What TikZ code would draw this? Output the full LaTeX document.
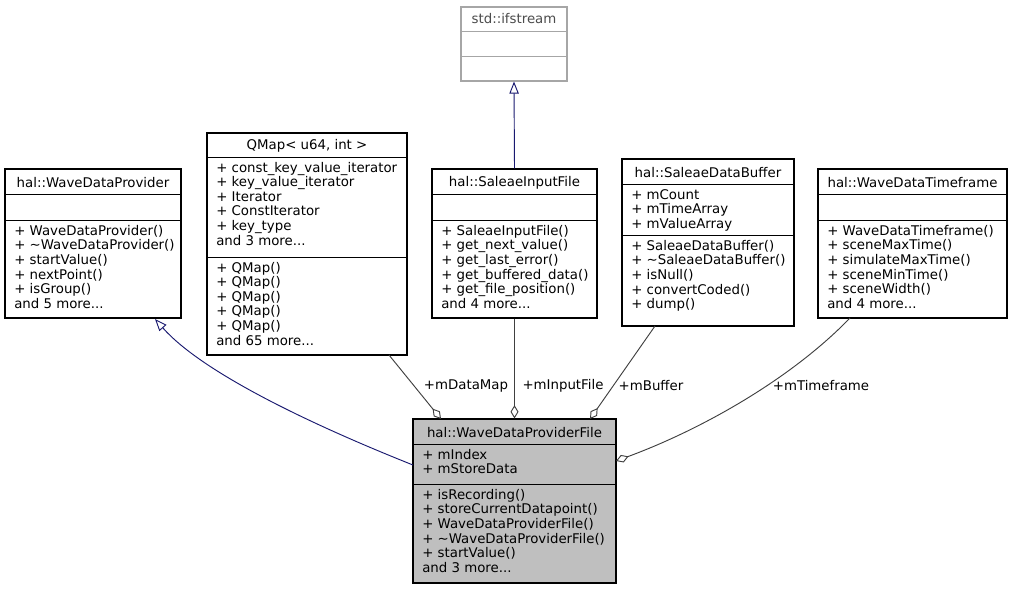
\documentclass[tikz,border=0pt]{standalone}
\usepackage{fontspec}
\setmainfont{DejaVu Sans}
\usetikzlibrary{arrows.meta,fit}
\newcommand\fs{\fontsize{10}{10.9}\selectfont}
\tikzset{x=0.75pt,y=-0.75pt,
 box/.style={draw=black,inner sep=0,line width=0.8pt},
 gbox/.style={draw=black!35,inner sep=0,line width=0.8pt},
 txt/.style={font=\fs,inner sep=0,anchor=north west,align=left},
 ttl/.style={font=\fs,inner sep=0},
 inh/.style={draw={rgb,255:red,25;green,25;blue,112},line width=0.7pt,-{Triangle[open,length=9pt,width=7pt]}},
 agg/.style={draw=black!75,line width=0.7pt,-{Diamond[open,length=10pt,width=6pt]}},
 lbl/.style={font=\fs,inner sep=1pt,fill=white}}
\newcommand\umlbox[9]{%
 \node[box,fit={(#2,#3)(#4,#7)}] (#1) {};
 \draw[black] (#2,#5)--(#4,#5) (#2,#6)--(#4,#6);
 \node[ttl] at ({(#2+#4)/2},{(#3+#5)/2+1}) {#8};
 \node[txt] at (#2+9,#5+5) {#9};
}
\newcommand\meth[4]{\node[txt] at (#1+9,#2+5) {#3};}
\begin{document}
\begin{tikzpicture}
\fill[white] (0,0) rectangle (1013,589);
\useasboundingbox (0,0) rectangle (1013,589);
% ifstream
\node[gbox,fit={(461,7)(567,81)}] (ifs) {};
\draw[black!35] (461,31)--(567,31) (461,56)--(567,56);
\node[ttl,text=black!70] at (514,19) {std::ifstream};
% WaveDataProviderFile
\fill[black!25] (413,419) rectangle (616,583);
\umlbox{wdpf}{413}{419}{616}{444}{484}{583}{hal::WaveDataProviderFile}{+ mIndex\\+ mStoreData}
\meth{413}{484}{+ isRecording()\\+ storeCurrentDatapoint()\\+ WaveDataProviderFile()\\+ \textasciitilde WaveDataProviderFile()\\+ startValue()\\and 3 more...}{}
% WaveDataProvider
\umlbox{wdp}{5}{169}{181}{194}{220}{318}{hal::WaveDataProvider}{}
\meth{5}{220}{+ WaveDataProvider()\\+ \textasciitilde WaveDataProvider()\\+ startValue()\\+ nextPoint()\\+ isGroup()\\and 5 more...}{}
% QMap
\umlbox{qmap}{207}{133}{407}{157}{257}{355}{QMap< u64, int >}{+ const\_key\_value\_iterator\\+ key\_value\_iterator\\+ Iterator\\+ ConstIterator\\+ key\_type\\and 3 more...}
\meth{207}{257}{+ QMap()\\+ QMap()\\+ QMap()\\+ QMap()\\+ QMap()\\and 65 more...}{}
% SaleaeInputFile
\umlbox{sif}{432}{169}{597}{194}{220}{318}{hal::SaleaeInputFile}{}
\meth{432}{220}{+ SaleaeInputFile()\\+ get\_next\_value()\\+ get\_last\_error()\\+ get\_buffered\_data()\\+ get\_file\_position()\\and 4 more...}{}
% SaleaeDataBuffer
\umlbox{sdb}{622}{159}{794}{184}{235}{326}{hal::SaleaeDataBuffer}{+ mCount\\+ mTimeArray\\+ mValueArray}
\meth{622}{235}{+ SaleaeDataBuffer()\\+ \textasciitilde SaleaeDataBuffer()\\+ isNull()\\+ convertCoded()\\+ dump()}{}
% WaveDataTimeframe
\umlbox{wdt}{818}{169}{1007}{194}{220}{318}{hal::WaveDataTimeframe}{}
\meth{818}{220}{+ WaveDataTimeframe()\\+ sceneMaxTime()\\+ simulateMaxTime()\\+ sceneMinTime()\\+ sceneWidth()\\and 4 more...}{}
% edges
\coordinate (c1) at (413,465);
\draw[inh] (sif.north) -- (ifs.south);
\draw[inh] (c1) .. controls (300,420) and (200,370) .. (155,319);
\coordinate (d1) at (441,419);
\coordinate (q1) at (389,355);
\draw[agg] (q1) -- (d1);
\draw[agg] (sif.south) -- (sif.south |- wdpf.north);
\coordinate (s1) at (655,326);
\coordinate (d3) at (590,419);
\draw[agg] (s1) -- (d3);
\coordinate (t1) at (850,318);
\coordinate (d4) at (616,461);
\draw[agg] (t1) .. controls (790,380) and (700,430) .. (d4);
\node[font=\fs,inner sep=0] at (466,386) {+mDataMap};
\node[font=\fs,inner sep=0] at (563,386) {+mInputFile};
\node[font=\fs,inner sep=0] at (651,386) {+mBuffer};
\node[font=\fs,inner sep=0] at (821,386) {+mTimeframe};
\end{tikzpicture}
\end{document}
